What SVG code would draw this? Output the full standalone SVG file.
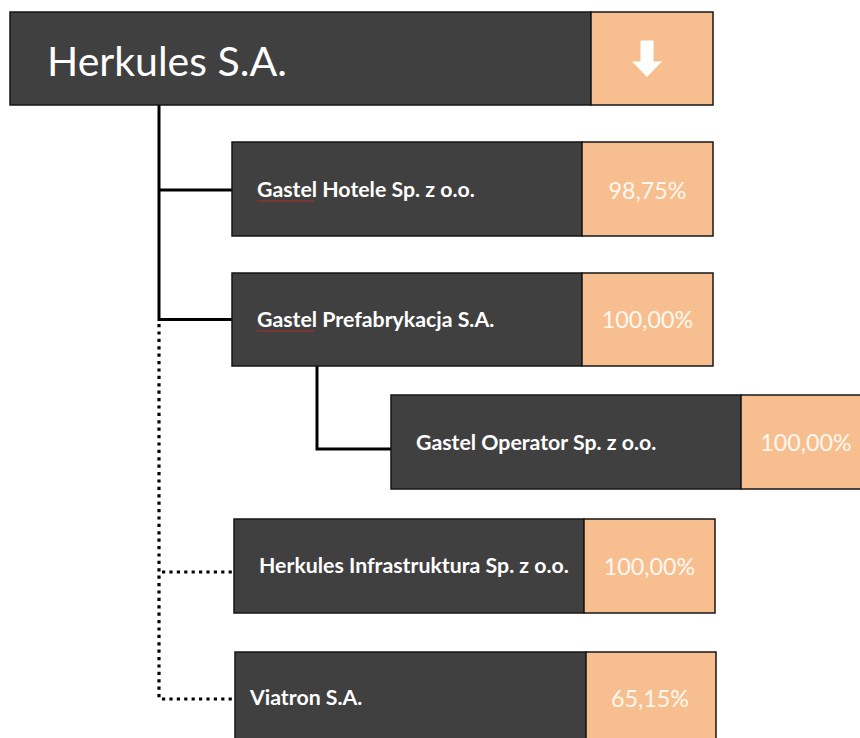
<svg xmlns="http://www.w3.org/2000/svg" width="860" height="738" viewBox="0 0 860 738">
<style>
.dk{fill:#404040;stroke:#161616;stroke-width:1.5}
.or{fill:#F7BF8F;stroke:#161616;stroke-width:1.5}
.lbl{font-family:Lato,"Liberation Sans",sans-serif;font-weight:bold;font-size:21.3px;fill:#ffffff}
.pct{font-family:Lato,"Liberation Sans",sans-serif;font-size:23.3px;fill:#fff8f0;text-anchor:middle}
.ttl{font-family:Lato,"Liberation Sans",sans-serif;font-size:41px;fill:#ffffff}
.solid{fill:none;stroke:#000;stroke-width:3}
.dot{fill:none;stroke:#000;stroke-width:3.2;stroke-dasharray:3.2 4.2}
.sq{fill:none;stroke:#c82828;stroke-width:0.9}
</style>
<rect width="860" height="738" fill="#ffffff"/>
<g id="connectors">
<path class="solid" d="M159,105 V319.5 H232"/>
<path class="solid" d="M159,190 H232"/>
<path class="solid" d="M317,366 V449 H391"/>
<path class="dot" d="M159,324 V699"/>
<path class="dot" d="M162,572 H234"/>
<path class="dot" d="M162,699 H235"/>
</g>
<g id="herkules-sa">
<rect class="dk" x="10" y="12" width="581" height="93"/>
<rect class="or" x="591" y="12" width="122" height="93"/>
<text class="ttl" x="47" y="76">Herkules S.A.</text>
<polygon fill="#ffffff" points="640.5,40.5 653.5,40.5 653.5,61.5 662,61.5 647,77 632,61.5 640.5,61.5"/>
</g>
<g id="gastel-hotele">
<rect class="dk" x="232" y="142" width="350" height="94"/>
<rect class="or" x="582" y="142" width="131" height="94"/>
<text class="lbl" x="257" y="197">Gastel Hotele Sp. z o.o.</text>
<path class="sq" d="M257,201.5 l1.5,-1 l1.5,1 l1.5,-1 l1.5,1 l1.5,-1 l1.5,1 l1.5,-1 l1.5,1 l1.5,-1 l1.5,1 l1.5,-1 l1.5,1 l1.5,-1 l1.5,1 l1.5,-1 l1.5,1 l1.5,-1 l1.5,1 l1.5,-1 l1.5,1 l1.5,-1 l1.5,1 l1.5,-1 l1.5,1 l1.5,-1 l1.5,1 l1.5,-1 l1.5,1 l1.5,-1 l1.5,1 l1.5,-1 l1.5,1 l1.5,-1 l1.5,1 l1.5,-1 l1.5,1 l1.5,-1 l1.5,1"/>
<text class="pct" x="647.5" y="199">98,75%</text>
</g>
<g id="gastel-prefabrykacja">
<rect class="dk" x="232" y="273" width="350" height="93"/>
<rect class="or" x="582" y="273" width="131" height="93"/>
<text class="lbl" x="257" y="327">Gastel Prefabrykacja S.A.</text>
<path class="sq" d="M257,331.5 l1.5,-1 l1.5,1 l1.5,-1 l1.5,1 l1.5,-1 l1.5,1 l1.5,-1 l1.5,1 l1.5,-1 l1.5,1 l1.5,-1 l1.5,1 l1.5,-1 l1.5,1 l1.5,-1 l1.5,1 l1.5,-1 l1.5,1 l1.5,-1 l1.5,1 l1.5,-1 l1.5,1 l1.5,-1 l1.5,1 l1.5,-1 l1.5,1 l1.5,-1 l1.5,1 l1.5,-1 l1.5,1 l1.5,-1 l1.5,1 l1.5,-1 l1.5,1 l1.5,-1 l1.5,1 l1.5,-1 l1.5,1"/>
<text class="pct" x="647.5" y="328">100,00%</text>
</g>
<g id="gastel-operator">
<rect class="dk" x="391" y="395" width="350" height="94"/>
<rect class="or" x="741" y="395" width="131" height="94"/>
<text class="lbl" x="416" y="450">Gastel Operator Sp. z o.o.</text>
<text class="pct" x="806" y="451">100,00%</text>
</g>
<g id="herkules-infrastruktura">
<rect class="dk" x="234" y="519" width="350" height="94"/>
<rect class="or" x="584" y="519" width="131" height="94"/>
<text class="lbl" x="259" y="573">Herkules Infrastruktura Sp. z o.o.</text>
<text class="pct" x="649.5" y="575">100,00%</text>
</g>
<g id="viatron">
<rect class="dk" x="235" y="652" width="351" height="94"/>
<rect class="or" x="586" y="652" width="130" height="94"/>
<text class="lbl" x="250" y="705">Viatron S.A.</text>
<text class="pct" x="650" y="707">65,15%</text>
</g>
</svg>
